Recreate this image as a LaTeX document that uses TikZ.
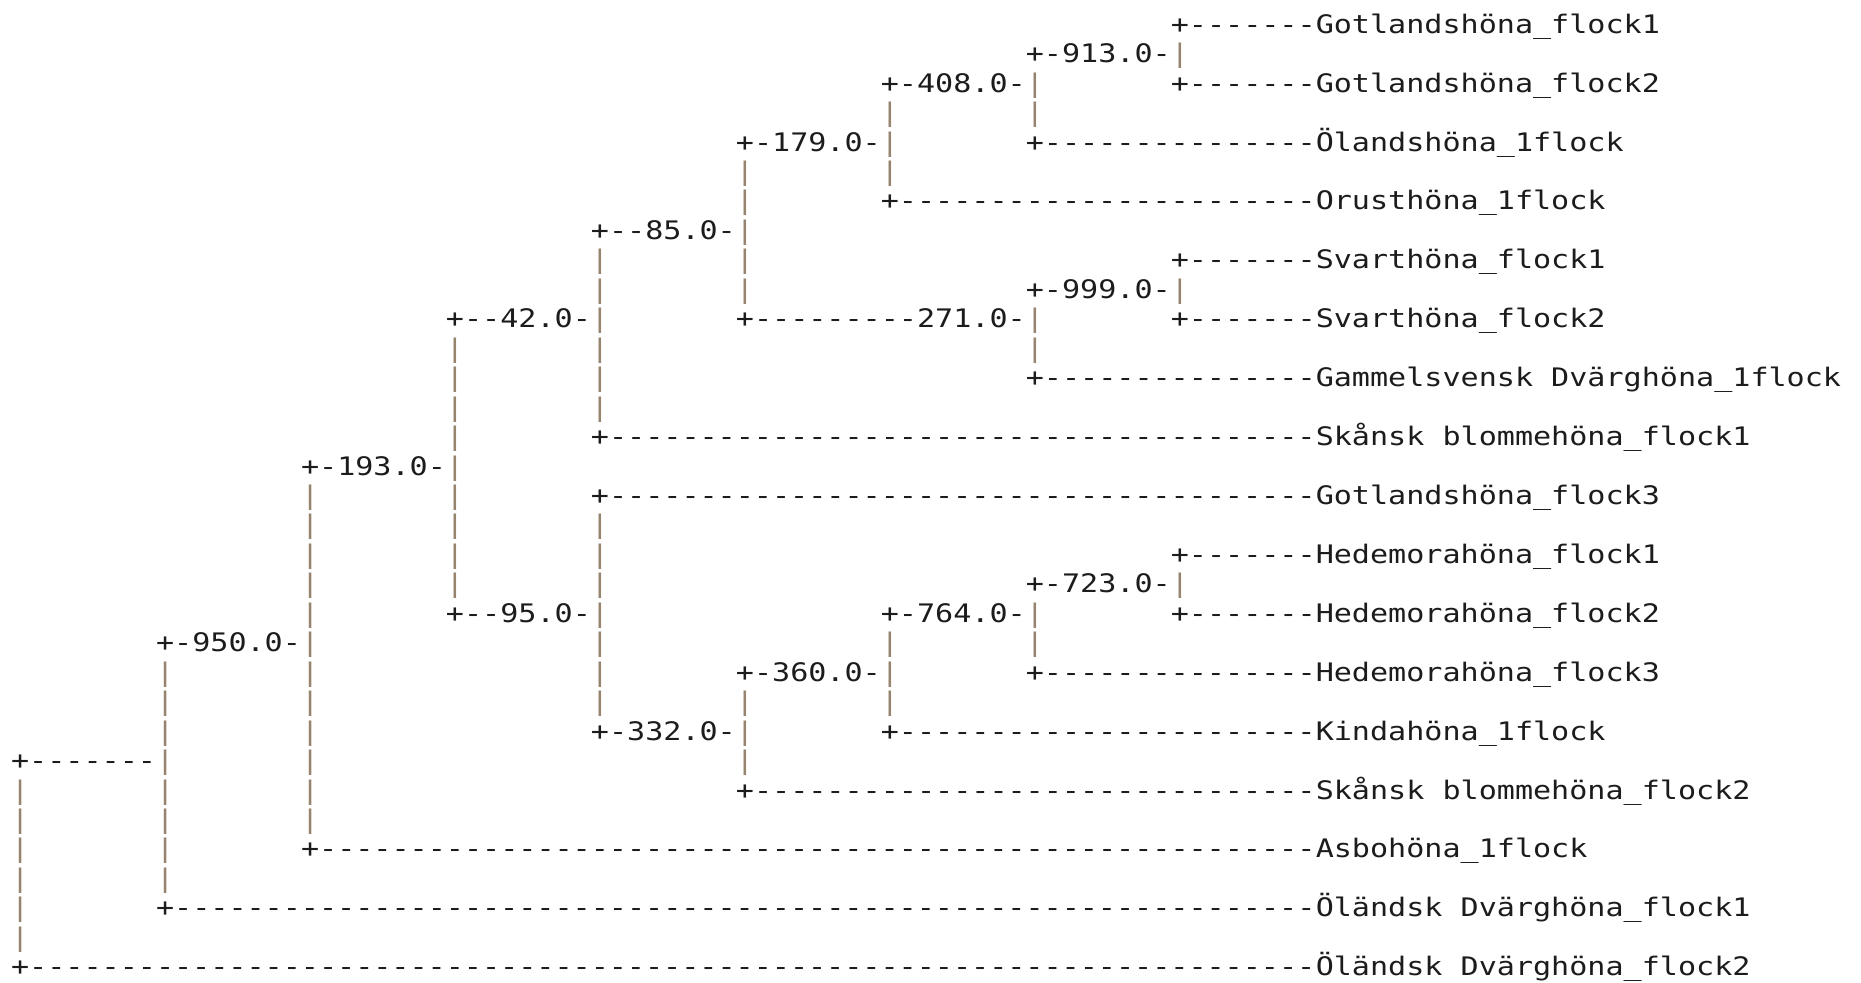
\documentclass[tikz,border=0pt]{standalone}
\usepackage{fontspec}
\setmonofont{DejaVu Sans Mono}[FakeStretch=1.18]
\definecolor{ink}{RGB}{28,28,28}
\definecolor{barc}{RGB}{150,132,110}
\tikzset{
  txt/.style={anchor=base west, inner sep=0pt, outer sep=0pt, text=ink,
    font=\ttfamily\fontsize{12.75pt}{14pt}\selectfont},
  barglyph/.style={txt, text=barc}
}
% #1 name, #2 line, #3 column, #4 text
\newcommand\seg[4]{\node[txt] (#1) at ({5.55pt+#3*9.06pt},{-16.65pt-#2*14.725pt}) {#4};}
% vertical bar glyphs: #1 column, #2 first line, #3 last line
\newcommand\vbars[3]{\foreach \l in {#2,...,#3}{\node[barglyph] (bar-#1-\l) at ({5.55pt+#1*9.06pt},{-16.65pt-\l*14.725pt}) {|};}}
% leaf: #1 name, #2 line, #3 column of +, #4 label
\newcommand\leaf[4]{%
  \pgfmathtruncatemacro\nd{71-#3}%
  \node[txt] (#1-br) at ({5.55pt+#3*9.06pt},{-16.65pt-#2*14.725pt}) {+\foreach \k in {1,...,\nd}{-}};
  \node[txt] (#1) at ({5.55pt+72*9.06pt},{-16.65pt-#2*14.725pt}) {#4};}
\begin{document}
\begin{tikzpicture}
\useasboundingbox[fill=white] (0,0) rectangle (930.5pt,-491.5pt);
% internal branches with support values
\seg{n913}{1}{56}{+-913.0-}
\seg{n408}{2}{48}{+-408.0-}
\seg{n179}{4}{40}{+-179.0-}
\seg{n85}{7}{32}{+--85.0-}
\seg{n999}{9}{56}{+-999.0-}
\seg{n42}{10}{24}{+--42.0-}
\seg{n271}{10}{40}{+---------271.0-}
\seg{n193}{15}{16}{+-193.0-}
\seg{n723}{19}{56}{+-723.0-}
\seg{n95}{20}{24}{+--95.0-}
\seg{n764}{20}{48}{+-764.0-}
\seg{n950}{21}{8}{+-950.0-}
\seg{n360}{22}{40}{+-360.0-}
\seg{n332}{24}{32}{+-332.0-}
\seg{root}{25}{0}{+-------}
% vertical bars
\vbars{0}{26}{31}
\vbars{8}{22}{29}
\vbars{16}{16}{27}
\vbars{24}{11}{19}
\vbars{32}{8}{13}
\vbars{32}{17}{23}
\vbars{40}{5}{9}
\vbars{40}{23}{25}
\vbars{48}{3}{5}
\vbars{48}{21}{23}
\vbars{56}{2}{3}
\vbars{56}{10}{11}
\vbars{56}{20}{21}
\vbars{64}{1}{1}
\vbars{64}{9}{9}
\vbars{64}{19}{19}
% leaves
\leaf{t1}{0}{64}{Gotlandshöna\_flock1}
\leaf{t2}{2}{64}{Gotlandshöna\_flock2}
\leaf{t3}{4}{56}{Ölandshöna\_1flock}
\leaf{t4}{6}{48}{Orusthöna\_1flock}
\leaf{t5}{8}{64}{Svarthöna\_flock1}
\leaf{t6}{10}{64}{Svarthöna\_flock2}
\leaf{t7}{12}{56}{Gammelsvensk Dvärghöna\_1flock}
\leaf{t8}{14}{32}{Skånsk blommehöna\_flock1}
\leaf{t9}{16}{32}{Gotlandshöna\_flock3}
\leaf{t10}{18}{64}{Hedemorahöna\_flock1}
\leaf{t11}{20}{64}{Hedemorahöna\_flock2}
\leaf{t12}{22}{56}{Hedemorahöna\_flock3}
\leaf{t13}{24}{48}{Kindahöna\_1flock}
\leaf{t14}{26}{40}{Skånsk blommehöna\_flock2}
\leaf{t15}{28}{16}{Asbohöna\_1flock}
\leaf{t16}{30}{8}{Öländsk Dvärghöna\_flock1}
\leaf{t17}{32}{0}{Öländsk Dvärghöna\_flock2}
\end{tikzpicture}
\end{document}
